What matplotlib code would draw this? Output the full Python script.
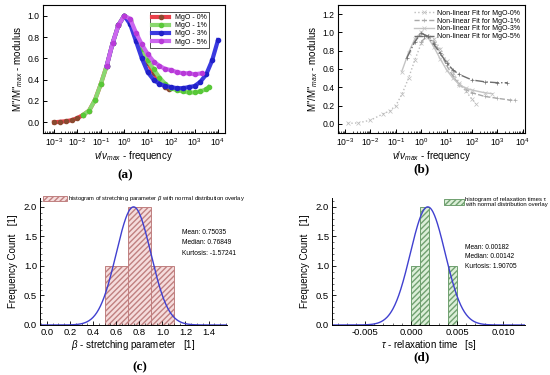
import numpy as np
import matplotlib.pyplot as plt
from matplotlib.ticker import LogLocator, NullFormatter, MultipleLocator

plt.rcParams['font.family'] = ['Liberation Sans', 'DejaVu Sans']
plt.rcParams['mathtext.fontset'] = 'custom'
plt.rcParams['mathtext.rm'] = 'Liberation Sans'
plt.rcParams['mathtext.it'] = 'Liberation Sans:italic'

# ---- data: panel (a) measured modulus, log10(nu/nu_max) and M''/M''max
logf_0 = [-3.0, -2.75, -2.5, -2.25, -2.0, -1.75, -1.5, -1.25, -1.0, -0.75, -0.5, -0.25,
          0.0, 0.25, 0.5, 0.75, 1.0, 1.25, 1.5, 1.75, 1.9]
mod_0 = [0.0, 0.005, 0.01, 0.02, 0.04, 0.07, 0.11, 0.21, 0.36, 0.53, 0.74, 0.91,
         1.0, 0.95, 0.82, 0.68, 0.56, 0.46, 0.39, 0.33, 0.31]
logf_1 = [-1.75, -1.5, -1.25, -1.0, -0.75, -0.5, -0.25, 0.0, 0.25, 0.5, 0.75, 1.0, 1.25,
          1.5, 1.75, 2.0, 2.25, 2.5, 2.75, 3.0, 3.25, 3.5, 3.6]
mod_1 = [0.07, 0.11, 0.21, 0.36, 0.53, 0.74, 0.91, 1.0, 0.96, 0.82, 0.69, 0.58, 0.5,
         0.42, 0.36, 0.32, 0.3, 0.29, 0.28, 0.28, 0.29, 0.31, 0.33]
logf_3 = [-0.75, -0.5, -0.25, 0.0, 0.25, 0.5, 0.75, 1.0, 1.25, 1.5, 1.75, 2.0, 2.25, 2.5,
          2.75, 3.0, 3.25, 3.5, 3.75, 4.0]
mod_3 = [0.53, 0.74, 0.91, 1.0, 0.92, 0.76, 0.6, 0.47, 0.4, 0.36, 0.34, 0.33, 0.32, 0.32,
         0.33, 0.34, 0.38, 0.45, 0.58, 0.77]
logf_5 = [-0.75, -0.5, -0.25, 0.0, 0.25, 0.5, 0.75, 1.0, 1.25, 1.5, 1.75, 2.0, 2.25, 2.5,
          2.75, 3.0, 3.3]
mod_5 = [0.53, 0.74, 0.91, 1.0, 0.97, 0.84, 0.73, 0.64, 0.57, 0.53, 0.5, 0.49, 0.47, 0.46,
         0.46, 0.45, 0.46]

# ---- data: panel (b) non-linear fits
fit_logf_0 = [-2.9, -2.5, -2.0, -1.5, -1.25, -1.0, -0.75, -0.5, -0.25, 0.0, 0.22, 0.5,
              0.75, 1.0, 1.25, 1.5, 1.75, 2.0, 2.15]
fit_mod_0 = [0.005, 0.01, 0.04, 0.11, 0.14, 0.2, 0.33, 0.5, 0.7, 0.88, 0.96, 0.93,
             0.82, 0.69, 0.56, 0.45, 0.36, 0.27, 0.22]
fit_logf_1 = [0.0, 0.25, 0.5, 0.75, 1.0, 1.25, 1.5, 1.75, 2.0, 2.5, 3.0, 3.5, 3.7]
fit_mod_1 = [0.9, 0.96, 0.9, 0.78, 0.64, 0.52, 0.43, 0.38, 0.34, 0.3, 0.28, 0.26, 0.26]
fit_logf_3 = [-0.77, -0.5, -0.25, 0.0, 0.25, 0.5, 0.75, 1.0, 1.25, 1.5, 1.75, 2.0, 2.5, 2.8]
fit_mod_3 = [0.57, 0.78, 0.93, 1.0, 0.95, 0.84, 0.71, 0.59, 0.5, 0.43, 0.39, 0.37, 0.34, 0.33]
fit_logf_5 = [-0.57, -0.25, 0.0, 0.25, 0.5, 0.75, 1.0, 1.25, 1.5, 2.0, 2.5, 3.0, 3.4]
fit_mod_5 = [0.72, 0.9, 0.99, 0.96, 0.87, 0.77, 0.67, 0.59, 0.54, 0.48, 0.46, 0.45, 0.45]

# ---- data: panel (c) and (d) histograms
beta_edges = [0.5, 0.7, 0.9]
beta_counts = [1, 2, 1]
beta_width = 0.2
beta_mean, beta_sd = 0.75035, 0.15
beta_stats = ["Mean: 0.75035", "Median: 0.76849", "Kurtosis: -1.57241"]

tau_edges = [0.0, 0.001, 0.004]
tau_counts = [1, 2, 1]
tau_width = 0.001
tau_mean, tau_sd = 0.00182, 0.0019
tau_stats = ["Mean: 0.00182", "Median: 0.00142", "Kurtosis: 1.90705"]

W, H = 550, 375
fig = plt.figure(figsize=(5.5, 3.75), dpi=100)

TICK = 6.2
LAB = 7.0


def box(l, t, r, b):
    return [l / W, 1 - b / H, (r - l) / W, (b - t) / H]


def log_axes(ax, xlo, xhi, ylo, yhi, ystep):
    ax.set_xscale('log')
    ax.set_xlim(10 ** xlo, 10 ** xhi)
    ax.set_ylim(ylo, yhi)
    ax.xaxis.set_major_locator(LogLocator(base=10, numticks=20))
    ax.xaxis.set_minor_locator(LogLocator(base=10, subs=np.arange(2, 10), numticks=20))
    ax.xaxis.set_minor_formatter(NullFormatter())
    ax.yaxis.set_major_locator(MultipleLocator(ystep))
    ax.yaxis.set_major_formatter(plt.FuncFormatter(lambda v, p: f"{v:.1f}"))
    ax.tick_params(direction='in', labelsize=TICK, length=3, width=0.7, pad=2.5)
    ax.tick_params(which='minor', direction='in', length=1.5, width=0.5)
    for s in ax.spines.values():
        s.set_linewidth(0.8)
    ax.set_xlabel(r"$\nu/\nu_{max}$ - frequency", fontsize=LAB, labelpad=0.5)
    ax.set_ylabel(r'M"/M"$_{max}$ - modulus', fontsize=LAB, labelpad=2)


# ---------- (a)
ax = fig.add_axes(box(43, 5, 225, 133))
log_axes(ax, -3.47, 4.3, -0.1, 1.1, 0.2)
series_a = [
    (logf_0, mod_0, '#8a4a30', '#e8404a', 'MgO - 0%'),
    (logf_1, mod_1, '#58c838', '#8ad870', 'MgO - 1%'),
    (logf_3, mod_3, '#2020c8', '#3a3ae0', 'MgO - 3%'),
    (logf_5, mod_5, '#b83ad8', '#cc66ee', 'MgO - 5%'),
]
for lf, m, mc, lc, lab in series_a:
    ax.plot(10 ** np.array(lf), m, '-', color=lc, lw=3.0, marker='o', ms=3.0,
            mfc=mc, mec=mc, label=lab)
ax.legend(loc='upper right', fontsize=5, frameon=True, fancybox=False, edgecolor='black',
          borderpad=0.3, labelspacing=0.15, handlelength=2.4, handletextpad=0.8,
          bbox_to_anchor=(0.93, 0.97)).get_frame().set_linewidth(0.6)

# ---------- (b)
ax = fig.add_axes(box(338, 5, 525, 133))
log_axes(ax, -3.28, 4.09, -0.1, 1.3, 0.2)
series_b = [
    (fit_logf_0, fit_mod_0, '#bdbdbd', ':', 'x', 'Non-linear Fit for MgO-0%'),
    (fit_logf_1, fit_mod_1, '#a8a8a8', '--', '+', 'Non-linear Fit for MgO-1%'),
    (fit_logf_3, fit_mod_3, '#c4c4c4', '-', 'x', 'Non-linear Fit for MgO-3%'),
    (fit_logf_5, fit_mod_5, '#6e6e6e', '-.', '+', 'Non-linear Fit for MgO-5%'),
]
for lf, m, c, ls, mk, lab in series_b:
    ax.plot(10 ** np.array(lf), m, ls=ls, color=c, lw=1.0, marker=mk, ms=2.2,
            mew=0.5, label=lab)
ax.legend(loc='upper right', fontsize=5, frameon=False, borderpad=0.2,
          labelspacing=0.1, handlelength=2.8, handletextpad=0.5)


# ---------- (c) and (d)
def hist_axes(ax, xlo, xhi, xstep, xminor):
    ax.set_xlim(xlo, xhi)
    ax.set_ylim(0, 2.15)
    ax.spines['top'].set_visible(False)
    ax.spines['right'].set_visible(False)
    ax.xaxis.set_major_locator(MultipleLocator(xstep))
    ax.xaxis.set_minor_locator(MultipleLocator(xminor))
    ax.yaxis.set_major_locator(MultipleLocator(0.5))
    ax.yaxis.set_minor_locator(MultipleLocator(0.1))
    ax.tick_params(direction='in', labelsize=6.8, length=3, width=0.6, pad=2)
    ax.tick_params(which='minor', direction='in', length=1.5, width=0.4)
    for s in ax.spines.values():
        s.set_linewidth(0.7)
    ax.set_ylabel("Frequency Count   [1]", fontsize=LAB, labelpad=4)


ax = fig.add_axes(box(40, 198, 227, 325))
hist_axes(ax, -0.06, 1.56, 0.2, 0.05)
ax.bar(beta_edges, beta_counts, width=beta_width, align='edge', facecolor='#f5dcdc',
       edgecolor='#c08080', hatch='//////', lw=0.7,
       label=r"histogram of stretching parameter $\beta$ with normal distribution overlay")
xs = np.linspace(-0.06, 1.56, 400)
ax.plot(xs, 2.0 * np.exp(-(xs - beta_mean) ** 2 / (2 * beta_sd ** 2)), color='#4040d0', lw=1.0)
ax.xaxis.set_major_formatter(plt.FuncFormatter(lambda v, p: f"{v:.1f}"))
ax.yaxis.set_major_formatter(plt.FuncFormatter(lambda v, p: f"{v:.1f}"))
ax.set_xlabel(r"$\beta$ - stretching parameter   [1]", fontsize=LAB, labelpad=1)
ax.legend(loc='upper left', fontsize=4.2, frameon=False, bbox_to_anchor=(-0.01, 1.07),
          handlelength=4.0, handleheight=1.0, handletextpad=0.3)
for i, s in enumerate(beta_stats):
    ax.text(0.76, 0.72 - i * 0.085, s, transform=ax.transAxes, fontsize=4.8)

ax = fig.add_axes(box(332, 198, 525, 325))
hist_axes(ax, -0.0086, 0.0124, 0.005, 0.001)
ax.bar(tau_edges, tau_counts, width=tau_width, align='edge', facecolor='#dcefd8',
       edgecolor='#70a070', hatch='//////', lw=0.7,
       label="histogram of relaxation times \u03c4\nwith normal distribution overlay")
xs = np.linspace(-0.0086, 0.0124, 400)
ax.plot(xs, 2.0 * np.exp(-(xs - tau_mean) ** 2 / (2 * tau_sd ** 2)), color='#4040d0', lw=1.0)
ax.xaxis.set_major_formatter(plt.FuncFormatter(lambda v, p: f"{v:.3f}"))
ax.yaxis.set_major_formatter(plt.FuncFormatter(lambda v, p: f"{v:.1f}"))
ax.set_xlabel(r"$\tau$ - relaxation time   [s]", fontsize=LAB, labelpad=1)
ax.legend(loc='upper left', fontsize=4.3, frameon=False, bbox_to_anchor=(0.57, 1.03),
          handlelength=3.2, handleheight=1.0, handletextpad=0.3, borderaxespad=0)
for i, s in enumerate(tau_stats):
    ax.text(0.69, 0.6 - i * 0.075, s, transform=ax.transAxes, fontsize=4.8)

# panel letters
for x, y, t in [(125, 175, '(a)'), (422, 169, '(b)'), (140, 367, '(c)'), (422, 357, '(d)')]:
    fig.text(x / W, 1 - y / H, t, ha='center', va='center', fontsize=9.5,
             fontweight='bold', family='Liberation Serif')

fig.savefig('out.png', dpi=100)
